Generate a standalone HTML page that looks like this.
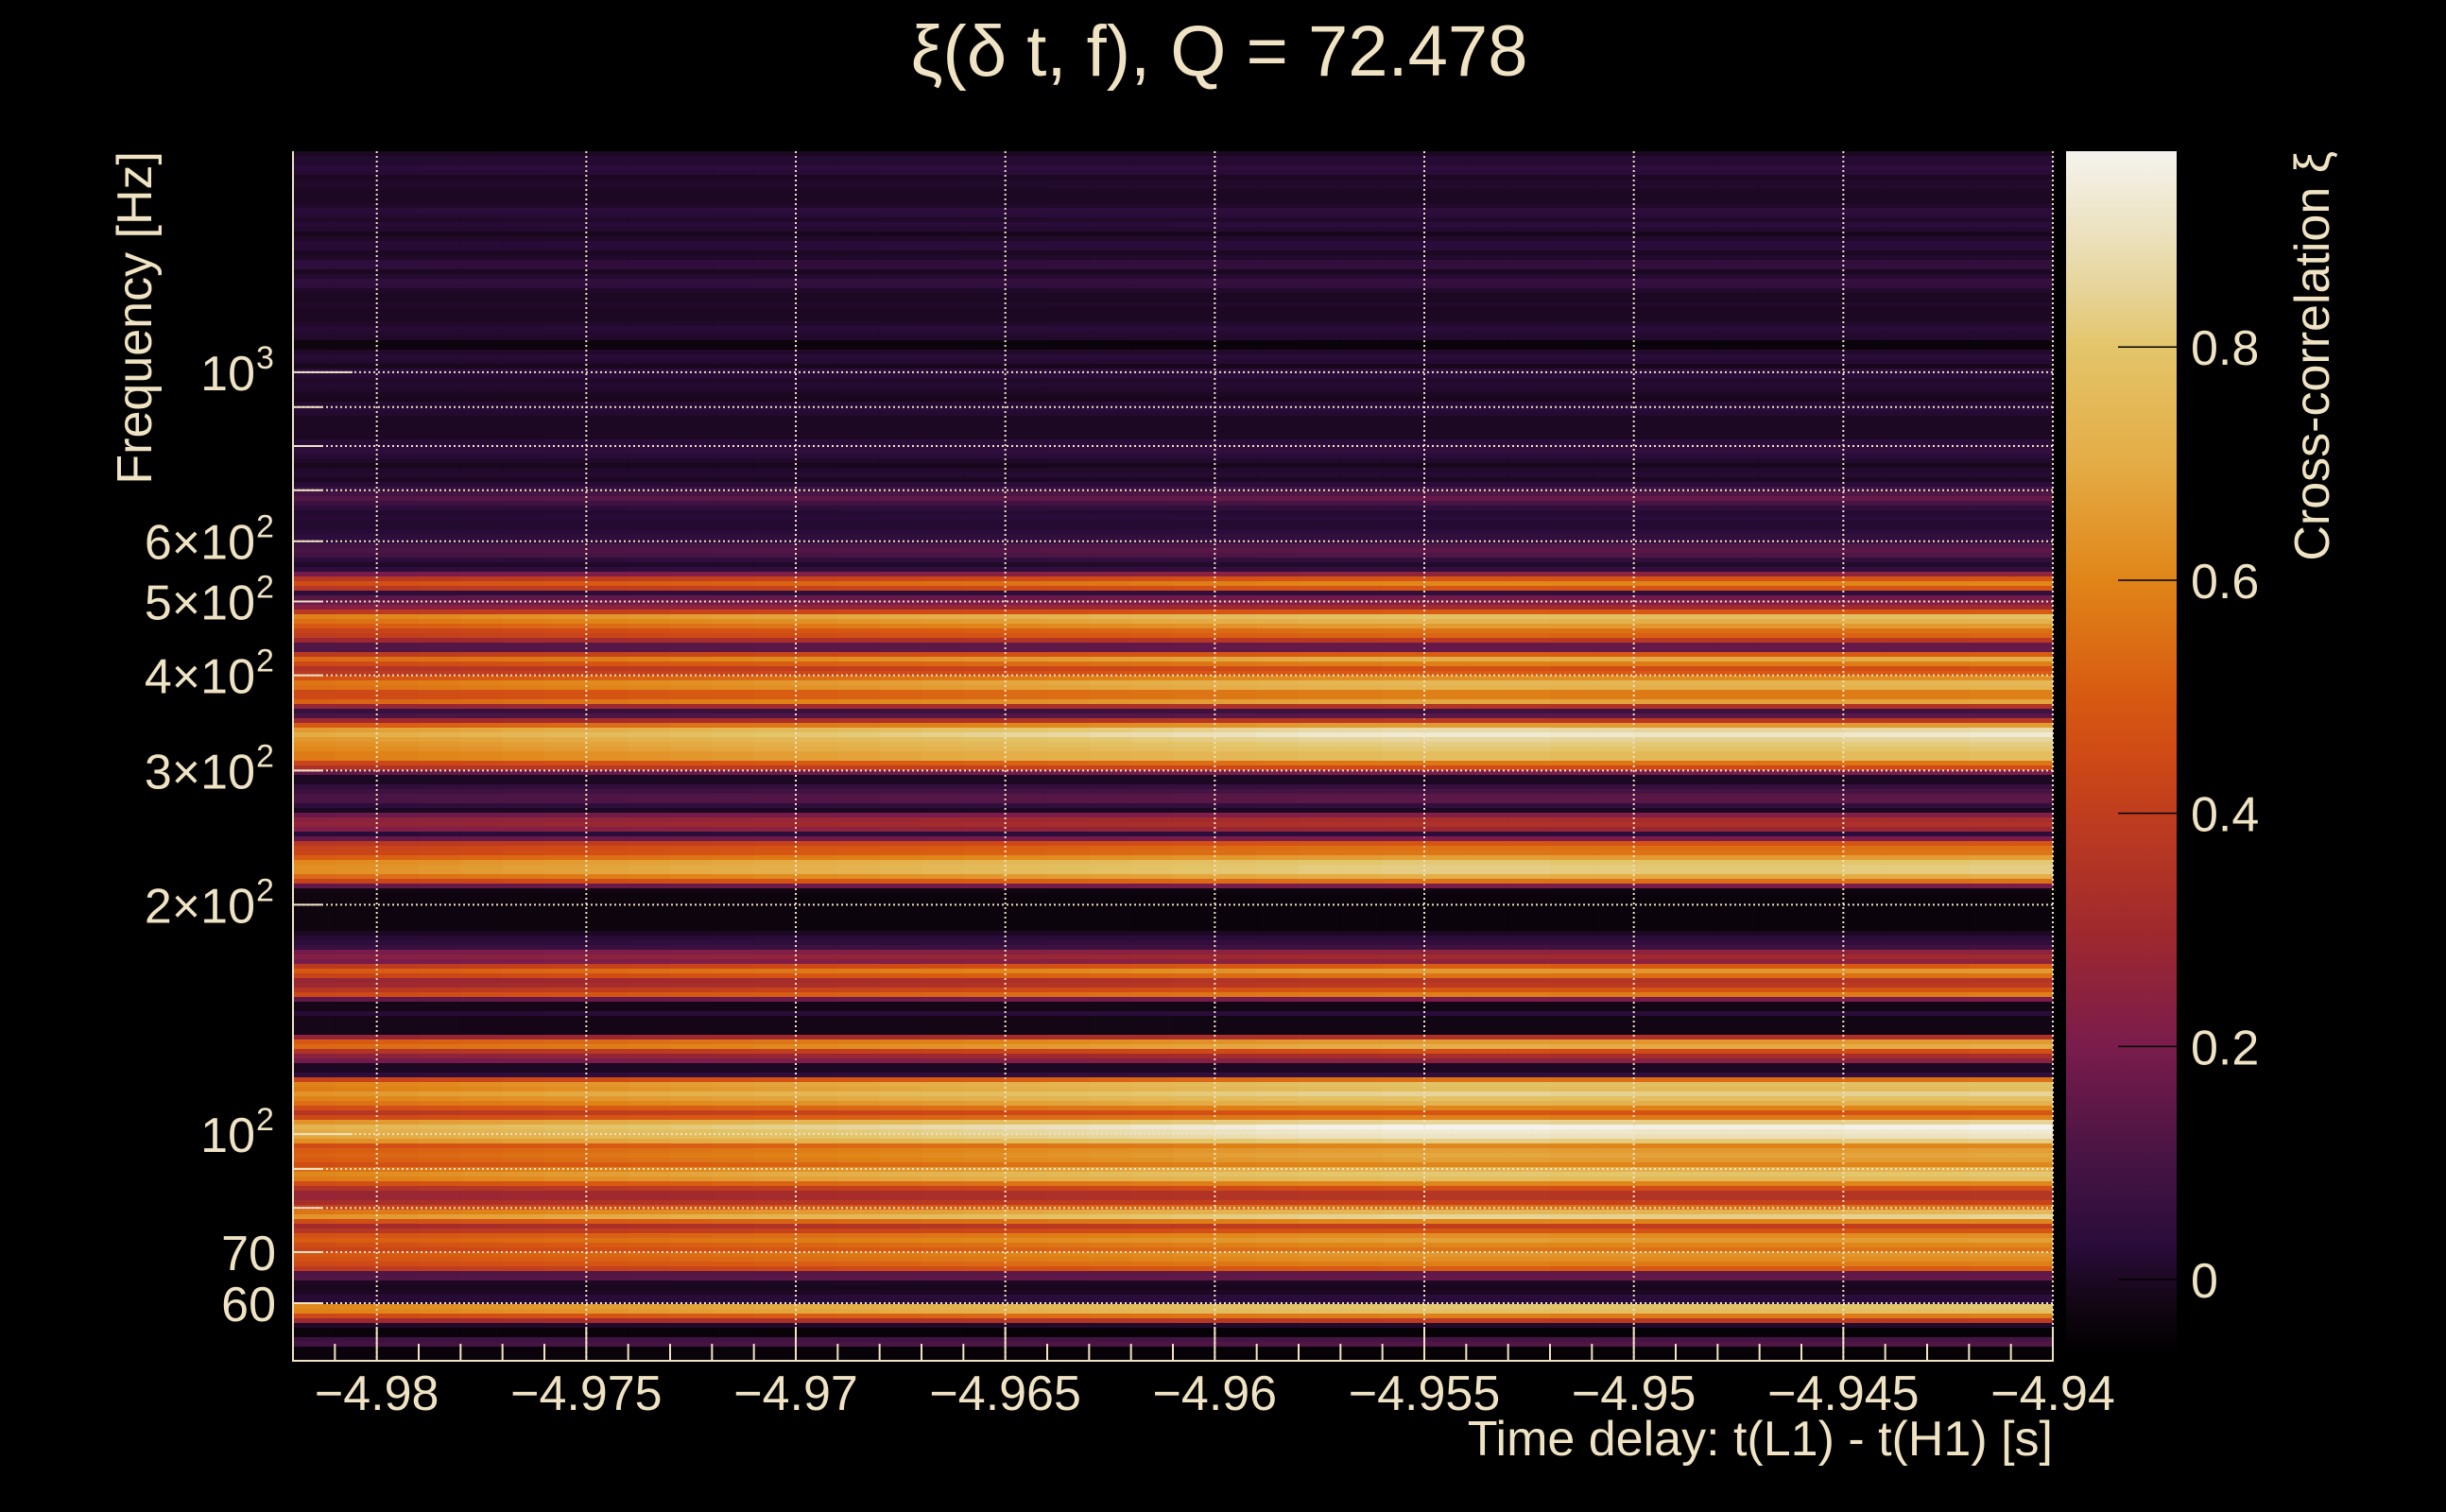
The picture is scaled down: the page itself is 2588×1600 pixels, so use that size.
<!DOCTYPE html>
<html><head><meta charset="utf-8"><title>Cross-correlation</title>
<style>
html,body{margin:0;padding:0;background:#000;}
svg{display:block;}
text{font-family:"Liberation Sans",sans-serif;fill:#efe3c4;}
</style></head>
<body>
<svg id="chart" width="2588" height="1600" viewBox="0 0 2588 1600" xmlns="http://www.w3.org/2000/svg">
<defs>
<linearGradient id="cbgrad" x1="0" y1="1" x2="0" y2="0"></linearGradient>
<clipPath id="plotclip"><rect x="310" y="160" width="1862" height="1280"/></clipPath>
</defs>
<rect x="0" y="0" width="2588" height="1600" fill="#000"/>
<text x="1290" y="80" font-size="76" text-anchor="middle">ξ(δ t, f), Q = 72.478</text>
<g id="heatmap" clip-path="url(#plotclip)"></g>
<g id="grid"></g>
<g id="axes"></g>
<g id="colorbar"></g>
<text x="2172" y="1540" font-size="52" text-anchor="end">Time delay: t(L1) - t(H1) [s]</text>
<text transform="translate(160,160) rotate(-90)" font-size="52" text-anchor="end">Frequency [Hz]</text>
<text transform="translate(2464,160) rotate(-90)" font-size="52" text-anchor="end">Cross-correlation ξ</text>
</svg>
<script>
// ---- data ----
const timeMin = -4.982, timeMax = -4.94;
const freqMin = 50.4, freqMax = 1950;
const valueMin = -0.064, valueMax = 0.968;
// row values, top (high freq) to bottom (low freq), log-spaced rows
const rowValues = [
0.0,0.02,0.02,0.04,0.03,0.0,0.01,0.01,0.0,0.0,0.0,0.01,0.04,0.03,0.01,0.03,0.02,-0.01,0.01,0.03,
0.03,0.0,0.01,0.05,0.05,0.0,0.02,0.06,0.05,0.01,0.0,0.0,0.01,0.0,0.0,0.0,0.01,0.03,0.02,0.01,
-0.04,-0.04,0.01,0.03,0.02,-0.01,0.04,0.03,0.01,0.02,0.01,0.0,-0.01,0.02,0.03,0.02,0.0,0.0,0.0,0.0,
0.0,0.03,0.05,0.05,0.03,0.01,-0.01,0.01,0.02,0.0,0.03,0.08,0.12,0.16,0.1,0.05,0.02,0.03,0.02,0.02,
0.03,0.05,0.05,0.12,0.14,0.12,0.05,0.01,0.05,0.25,0.48,0.6,0.48,0.05,0.18,0.22,0.3,0.5,0.78,0.72,
0.65,0.55,0.52,0.38,0.16,0.16,0.5,0.7,0.58,0.46,0.5,0.62,0.74,0.72,0.58,0.58,0.68,0.35,0.08,0.14,
0.38,0.65,0.86,0.92,0.85,0.82,0.8,0.76,0.76,0.56,0.45,0.2,0.0,0.0,0.06,0.1,0.14,0.14,0.05,0.0,
0.22,0.32,0.34,0.28,0.04,0.2,0.48,0.55,0.56,0.66,0.8,0.82,0.82,0.7,0.55,0.2,-0.03,-0.04,-0.04,-0.04,
-0.04,-0.04,-0.04,-0.04,-0.04,0.0,0.03,0.05,
0.08,0.25,0.3,0.25,0.5,0.65,0.55,0.36,0.38,0.48,0.58,0.2,-0.02,-0.02,0.03,-0.02,-0.02,-0.02,-0.02,0.34,
0.65,0.7,0.46,0.32,0.24,0.0,0.0,0.05,0.55,0.78,0.76,0.84,0.78,0.72,0.6,0.48,0.58,0.84,0.96,0.92,
0.9,0.82,0.6,0.66,0.68,0.66,0.6,0.72,0.8,0.76,0.6,0.46,0.36,0.36,0.42,0.55,0.74,0.84,0.6,0.4,
0.48,0.62,0.66,0.6,0.56,0.64,0.62,0.58,0.5,0.15,0.16,0.0,-0.01,0.0,0.03,0.03,0.8,0.78,0.58,0.38,
0.01,-0.05,-0.05,0.1,0.12,-0.05,-0.05,-0.05
];
// per time-column gain (left columns dimmer)
const colGain = [0.76,0.77,0.78,0.79,0.8,0.81,0.82,0.83,0.84,0.85,0.86,0.87,0.88,0.89,0.9,0.91,0.92,0.93,0.94,0.95,0.96,0.97,0.98,0.99,1,1,1.01,1.01,1.01,1.01,1,1,0.99,0.99,0.99,0.99,0.99,1,1,1,1.01,1.01];
const xTicks = [-4.98,-4.975,-4.97,-4.965,-4.96,-4.955,-4.95,-4.945,-4.94];
const xTickLabels = ["\u22124.98","\u22124.975","\u22124.97","\u22124.965","\u22124.96","\u22124.955","\u22124.95","\u22124.945","\u22124.94"];
const yGridFreqs = [1000,900,800,700,600,500,400,300,200,100,90,80,70,60];
const yLabelFreqs = [1000,600,500,400,300,200,100,70,60];
const yLabelMant = ["","6\u00d7","5\u00d7","4\u00d7","3\u00d7","2\u00d7","","70","60"];
const yLabelExp = ["3","2","2","2","2","2","2","",""];
const cbTicks = [0,0.2,0.4,0.6,0.8];
const cbTickLabels = ["0","0.2","0.4","0.6","0.8"];

// ---- layout ----
const PL=310, PR=2172, PT=160, PB=1440;
const CBL=2186, CBR=2303, CBT=160, CBB=1433;
const NS="http://www.w3.org/2000/svg";
function xScale(t){return PL+(t-timeMin)/(timeMax-timeMin)*(PR-PL);}
function yScale(f){return PB-(Math.log10(f)-Math.log10(freqMin))/(Math.log10(freqMax)-Math.log10(freqMin))*(PB-PT);}
function cbScale(v){return CBB-(v-valueMin)/(valueMax-valueMin)*(CBB-CBT);}
const stops=[[-0.064,[0,0,0]],[-0.02,[19,6,20]],[0.03,[42,12,58]],[0.1,[69,20,67]],[0.2,[122,28,76]],[0.3,[160,41,46]],[0.4,[192,61,30]],[0.45,[207,74,22]],[0.5,[216,90,18]],[0.6,[224,133,24]],[0.7,[228,172,69]],[0.8,[227,197,106]],[0.85,[230,212,154]],[0.9,[236,226,192]],[0.968,[245,243,238]]];
function color(v){
  if(v<=stops[0][0]) return "rgb(0,0,0)";
  for(let i=1;i<stops.length;i++){
    if(v<=stops[i][0]){
      const a=stops[i-1],b=stops[i],u=(v-a[0])/(b[0]-a[0]);
      const c=a[1].map((x,k)=>Math.round(x+(b[1][k]-x)*u));
      return "rgb("+c.join(",")+")";
    }
  }
  const l=stops[stops.length-1][1];return "rgb("+l.join(",")+")";
}
function mk(tag,attrs,parent){const e=document.createElementNS(NS,tag);for(const k in attrs)e.setAttribute(k,attrs[k]);parent.appendChild(e);return e;}

// ---- heatmap ----
const hm=document.getElementById('heatmap');
const nR=rowValues.length,nC=colGain.length;
const lf0=Math.log10(freqMin),lf1=Math.log10(freqMax);
for(let r=0;r<nR;r++){
  const fTop=Math.pow(10,lf1-(lf1-lf0)*r/nR), fBot=Math.pow(10,lf1-(lf1-lf0)*(r+1)/nR);
  const y0=yScale(fTop),y1=yScale(fBot);
  for(let c=0;c<nC;c++){
    const t0=timeMin+(timeMax-timeMin)*c/nC,t1=timeMin+(timeMax-timeMin)*(c+1)/nC;
    const x0=xScale(t0),x1=xScale(t1);
    const v=rowValues[r]*colGain[c];
    const rc=mk('rect',{x:x0.toFixed(2),y:y0.toFixed(2),width:(x1-x0+0.6).toFixed(2),height:(y1-y0+0.6).toFixed(2),fill:color(v)},hm);
    
    
  }
}

// ---- grid ----
const gd=document.getElementById('grid');
xTicks.forEach(t=>{
  const x=xScale(t);
  const l=mk('line',{x1:x,y1:PT,x2:x,y2:PB,stroke:'#efe3c4','stroke-width':2,'stroke-dasharray':'2,3'},gd);
  
  
});
yGridFreqs.forEach(f=>{
  const y=yScale(f);
  const l=mk('line',{x1:PL,y1:y,x2:PR,y2:y,stroke:'#efe3c4','stroke-width':2,'stroke-dasharray':'2,3'},gd);
  
  
});

// ---- axes ----
const ax=document.getElementById('axes');
const la=mk('line',{x1:PL,y1:PT,x2:PL,y2:PB+1,stroke:'#efe3c4','stroke-width':2},ax);


const ba=mk('line',{x1:PL-1,y1:PB,x2:PR+1,y2:PB,stroke:'#efe3c4','stroke-width':2},ax);


for(let k=0;k<=42;k++){
  const tt=Math.round((-4.98+0.001*(k-2))*1e6)/1e6;
  if(tt<timeMin-1e-9||tt>timeMax+1e-9)continue;
  const major=xTicks.some(v=>Math.abs(v-tt)<1e-7);
  const x=xScale(tt);
  const tk=mk('line',{x1:x,y1:PB,x2:x,y2:PB-(major?36:18),stroke:'#efe3c4','stroke-width':2},ax);
  
  
}
xTicks.forEach((t,i)=>{
  const tx=mk('text',{x:xScale(t),y:1492,'font-size':52,'text-anchor':'middle'},ax);
  tx.textContent=xTickLabels[i];
  
  
});
yGridFreqs.forEach(f=>{
  const y=yScale(f);
  const major=(f===1000||f===100);
  const tk=mk('line',{x1:PL,y1:y,x2:PL+(major?63:31),y2:y,stroke:'#efe3c4','stroke-width':2},ax);
  
  
});
yLabelFreqs.forEach((f,i)=>{
  const y=yScale(f);
  const tx=mk('text',{x:yLabelExp[i]?270:292,y:y+19,'font-size':52,'text-anchor':'end'},ax);
  tx.textContent=yLabelExp[i]?(yLabelMant[i]+"10"):yLabelMant[i];
  
  
  if(yLabelExp[i]){
    const sp=mk('text',{x:271,y:y-4,'font-size':34,'text-anchor':'start'},ax);
    sp.textContent=yLabelExp[i];
    
    
  }
});

// ---- colorbar ----
const grad=document.getElementById('cbgrad');
stops.forEach(s=>{
  const off=(s[0]-valueMin)/(valueMax-valueMin);
  mk('stop',{offset:off.toFixed(4),'stop-color':'rgb('+s[1].join(',')+')'},grad);
});
const cb=document.getElementById('colorbar');
const cbr=mk('rect',{x:CBL,y:CBT,width:CBR-CBL,height:CBB-CBT,fill:'url(#cbgrad)'},cb);


cbTicks.forEach((v,i)=>{
  const y=cbScale(v);
  const tk=mk('line',{x1:2241,y1:y,x2:CBR,y2:y,stroke:'#000','stroke-width':1.5},cb);
  
  
  const tx=mk('text',{x:2318,y:y+19,'font-size':52,'text-anchor':'start'},cb);
  tx.textContent=cbTickLabels[i];
  
  
});
</script>
</body></html>
